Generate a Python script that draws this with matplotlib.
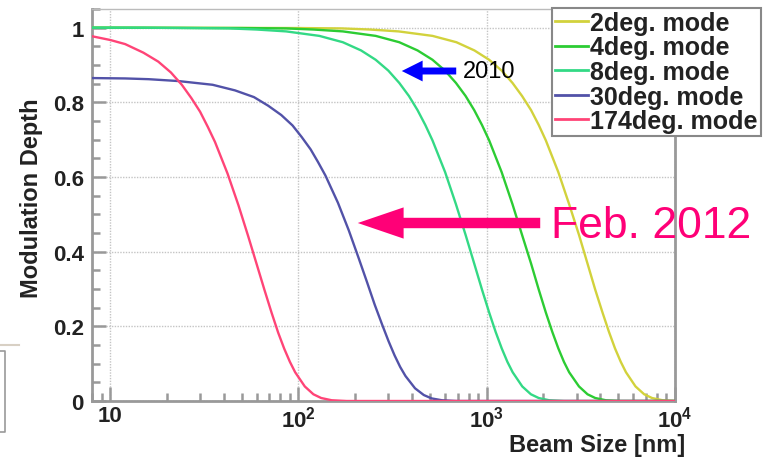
import matplotlib
matplotlib.use("Agg")
import matplotlib.pyplot as plt
from matplotlib.ticker import FixedLocator, NullFormatter, MultipleLocator
from matplotlib.lines import Line2D

plt.rcParams['font.family'] = ['Liberation Sans', 'DejaVu Sans']
plt.rcParams['mathtext.fontset'] = 'custom'
plt.rcParams['mathtext.rm'] = 'Liberation Sans:bold'
plt.rcParams['mathtext.bf'] = 'Liberation Sans:bold'

# Modulation depth vs beam size
x_2deg = [8, 100, 170, 240, 340, 515, 690, 860, 1030, 1200, 1370, 1540, 1720, 1890,
          2060, 2400, 2740, 3090, 3430, 3770, 4120, 4460, 4800, 5150, 5490, 6170,
          6860, 7550, 8580, 10000]
m_2deg = [1.000, 0.999, 0.998, 0.995, 0.990, 0.978, 0.961, 0.939, 0.914, 0.885,
          0.852, 0.817, 0.779, 0.739, 0.698, 0.613, 0.527, 0.445, 0.368, 0.298,
          0.237, 0.185, 0.141, 0.105, 0.077, 0.039, 0.018, 0.008, 0.002, 0.000]

x_4deg = [8, 50, 86, 120, 172, 257, 343, 429, 515, 600, 686, 772, 858, 944, 1030,
          1200, 1370, 1540, 1720, 1890, 2060, 2230, 2400, 2570, 2740, 3090, 3430,
          3770, 4290, 5150, 10000]
m_4deg = [1.000, 0.999, 0.998, 0.995, 0.990, 0.978, 0.961, 0.939, 0.914, 0.885,
          0.852, 0.817, 0.779, 0.739, 0.698, 0.613, 0.527, 0.445, 0.368, 0.298,
          0.237, 0.185, 0.141, 0.105, 0.077, 0.039, 0.018, 0.008, 0.002, 0.000,
          0.000]

x_8deg = [8, 15, 26, 43, 60, 86, 129, 172, 215, 257, 300, 343, 386, 429, 472, 515,
          601, 686, 772, 858, 944, 1030, 1115, 1201, 1287, 1373, 1544, 1716, 1888,
          2145, 2574, 10000]
m_8deg = [1.000, 1.000, 0.999, 0.998, 0.995, 0.990, 0.978, 0.961, 0.939, 0.914,
          0.885, 0.852, 0.817, 0.779, 0.739, 0.698, 0.613, 0.527, 0.445, 0.368,
          0.298, 0.237, 0.185, 0.141, 0.105, 0.077, 0.039, 0.018, 0.008, 0.002,
          0.000, 0.000]

x_30deg = [8, 12, 16, 23, 35, 46, 58, 69, 81, 93, 104, 116, 127, 139, 162, 185, 208,
           231, 254, 278, 301, 324, 347, 370, 416, 463, 509, 578, 694, 10000]
m_30deg = [0.865, 0.864, 0.862, 0.857, 0.847, 0.832, 0.814, 0.791, 0.766, 0.738,
           0.707, 0.674, 0.640, 0.604, 0.531, 0.457, 0.385, 0.319, 0.258, 0.205,
           0.160, 0.122, 0.091, 0.067, 0.034, 0.016, 0.007, 0.002, 0.000, 0.000]

x_174deg = [8, 10, 12, 15, 18, 21, 24, 27, 30, 33, 36, 42, 48, 54, 60, 66, 72, 78,
            84, 90, 96, 108, 120, 132, 150, 180, 10000]
m_174deg = [0.977, 0.967, 0.956, 0.933, 0.909, 0.880, 0.847, 0.811, 0.775, 0.734,
            0.694, 0.609, 0.524, 0.442, 0.366, 0.297, 0.236, 0.183, 0.140, 0.105,
            0.077, 0.039, 0.018, 0.008, 0.002, 0.000, 0.000]

labels = ['2deg. mode', '4deg. mode', '8deg. mode', '30deg. mode', '174deg. mode']
colors = ['#d2d23c', '#2ccc33', '#33d985', '#5252a8', '#ff4477']

fig = plt.figure(figsize=(7.75, 4.6), dpi=100)
ax = fig.add_axes([92/775, 1 - 402/460, (675-92)/775, (402-10)/460])

series = [(x_2deg, m_2deg), (x_4deg, m_4deg), (x_8deg, m_8deg),
          (x_30deg, m_30deg), (x_174deg, m_174deg)]
for (xs, ms), c in zip(series, colors):
    ax.plot(xs, ms, color=c, lw=1.7, solid_capstyle='round',
            solid_joinstyle='round', zorder=3)

ax.set_xscale('log')
ax.set_xlim(8, 1e4)
ax.set_ylim(0, 1.05)

ax.xaxis.set_major_locator(FixedLocator([10, 100, 1000, 10000]))
ax.set_xticklabels(['10', r'$10^{2}$', r'$10^{3}$', r'$10^{4}$'])
ax.xaxis.set_minor_locator(FixedLocator([m * 10**e for e in range(0, 4)
                                         for m in range(2, 10)]))
ax.xaxis.set_minor_formatter(NullFormatter())
ax.yaxis.set_major_locator(FixedLocator([0, 0.2, 0.4, 0.6, 0.8, 1.0]))
ax.set_yticklabels(['0', '0.2', '0.4', '0.6', '0.8', '1'])
ax.yaxis.set_minor_locator(MultipleLocator(0.05))

ax.tick_params(which='both', direction='in', color='#999999', width=1.8,
               top=False, right=False)
ax.tick_params(which='major', length=10, labelsize=16)
ax.tick_params(axis='y', which='major', pad=6)
ax.tick_params(axis='x', which='major', pad=3)
ax.tick_params(which='minor', length=6)
for t in ax.get_xticklabels() + ax.get_yticklabels():
    t.set_fontweight('bold')
    t.set_color('#222222')

ax.grid(True, which='major', color='#c4c4c4', lw=1.0, ls=(0, (1, 1)))
ax.set_axisbelow(True)

for side in ['left', 'bottom', 'right']:
    ax.spines[side].set_color('#999999')
    ax.spines[side].set_linewidth(2.0)
ax.spines['top'].set_color('#bbbbbb')
ax.spines['top'].set_linewidth(1.0)

ax.text(-0.103, 0.52, 'Modulation Depth', rotation=90, transform=ax.transAxes,
        ha='center', va='center', fontsize=17, fontweight='bold', color='#222222')
ax.text(1.017, -0.112, 'Beam Size [nm]', transform=ax.transAxes, ha='right',
        va='center', fontsize=17, fontweight='bold', color='#222222')

# legend (sticks out past the right spine)
handles = [Line2D([], [], color=c, lw=2) for c in colors]
leg = fig.legend(handles, labels, loc='upper left',
                 bbox_to_anchor=(552/775, 1 - 9/460), ncol=1, frameon=True,
                 fancybox=False, edgecolor='#888888', framealpha=1,
                 handlelength=1.3, handletextpad=0.1, borderpad=0.12,
                 labelspacing=0.02, borderaxespad=0,
                 prop={'family': 'Liberation Sans', 'weight': 'bold', 'size': 18})
leg.get_frame().set_linewidth(1.5)
for t in leg.get_texts():
    t.set_color('#222222')

# arrows and notes
ax.annotate('', xy=(399/775, 1 - 72/460), xycoords='figure fraction',
            xytext=(459/775, 1 - 72/460), textcoords='figure fraction',
            arrowprops=dict(arrowstyle='simple,head_length=1.5,head_width=1.5,tail_width=0.5',
                            color='#0000ff', lw=0))
fig.text(463/775, 1 - 72/460, '2010', fontsize=17, color='black', va='center')

ax.annotate('', xy=(355/775, 1 - 224/460), xycoords='figure fraction',
            xytext=(543/775, 1 - 224/460), textcoords='figure fraction',
            arrowprops=dict(arrowstyle='simple,head_length=3.3,head_width=2.25,tail_width=0.75',
                            color='#ff0077', lw=0))
fig.text(551/775, 1 - 226/460, 'Feb. 2012', fontsize=32, color='#ff0077',
         va='center')

# leftover bits from the slide at the left edge
fig.add_artist(Line2D([0, 19/775], [1 - 346/460, 1 - 346/460],
                      color='#d8d0c4', lw=1.5, transform=fig.transFigure))
fig.add_artist(Line2D([0, 5/775, 5/775, 0],
                      [1 - 352/460, 1 - 352/460, 1 - 433/460, 1 - 433/460],
                      color='#999999', lw=1.2, transform=fig.transFigure))

fig.savefig('out.png', dpi=100)
